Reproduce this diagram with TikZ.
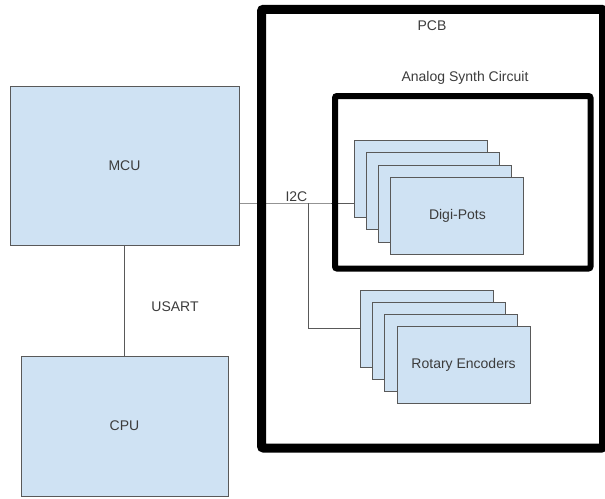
\documentclass[tikz,border=0pt]{standalone}
\usepackage{fontspec}
\setmainfont{Liberation Sans}
\definecolor{boxfill}{HTML}{CFE2F3}
\definecolor{boxline}{HTML}{595959}
\definecolor{txt}{HTML}{3C3C3C}
\begin{document}
\begin{tikzpicture}[x=1pt,y=-1pt,
  font=\fontsize{14}{16}\selectfont, text=txt,
  blockbox/.style={draw=boxline, fill=boxfill, line width=1pt, inner sep=0pt, rectangle},
  stackbox/.style={blockbox, minimum width=133pt, minimum height=77pt},
  wire/.style={draw=boxline, line width=0.8pt},
  frame/.style={draw=black, rounded corners=2pt}]
\useasboundingbox (0,0) rectangle (605,498);
% main blocks
\node[blockbox, minimum width=229pt, minimum height=159pt] (mcu) at (124.5,165.5) {MCU};
\node[blockbox, minimum width=207pt, minimum height=140pt] (cpu) at (124.5,426) {CPU};
% Digi-Pots stack
\node[stackbox] (d1) at (420.5,179) {};
\node[stackbox] (d2) at (432.8,191.3) {};
\node[stackbox] (d3) at (445.1,203.6) {};
\node[stackbox] (d4) at (457.4,215.9) {Digi-Pots};
% Rotary encoders stack
\node[stackbox] (r1) at (427,328.5) {};
\node[stackbox] (r2) at (439.2,340.7) {};
\node[stackbox] (r3) at (451.4,352.9) {};
\node[stackbox] (r4) at (463.6,365.1) {Rotary Encoders};
% connectors
\coordinate (j) at (308.5,203);
\draw[wire] (mcu.east |- j) -- (j) -- (j -| d1.west);
\draw[wire] (j) |- (r1.west);
\draw[wire] (mcu.south) -- (cpu.north);
% labels
\node (usart) at (175,307) {USART};
\node[anchor=south east, inner sep=1pt] (i2c) at (j) {I2C};
% frames
\draw[frame, line width=9pt] (261.5,9.3) rectangle (603.5,448);
\draw[frame, line width=6pt] (335,96) rectangle (590.5,268.5);
\node (pcb) at (432,26) {PCB};
\node (asc) at (465,78) {Analog Synth Circuit};
\end{tikzpicture}
\end{document}
